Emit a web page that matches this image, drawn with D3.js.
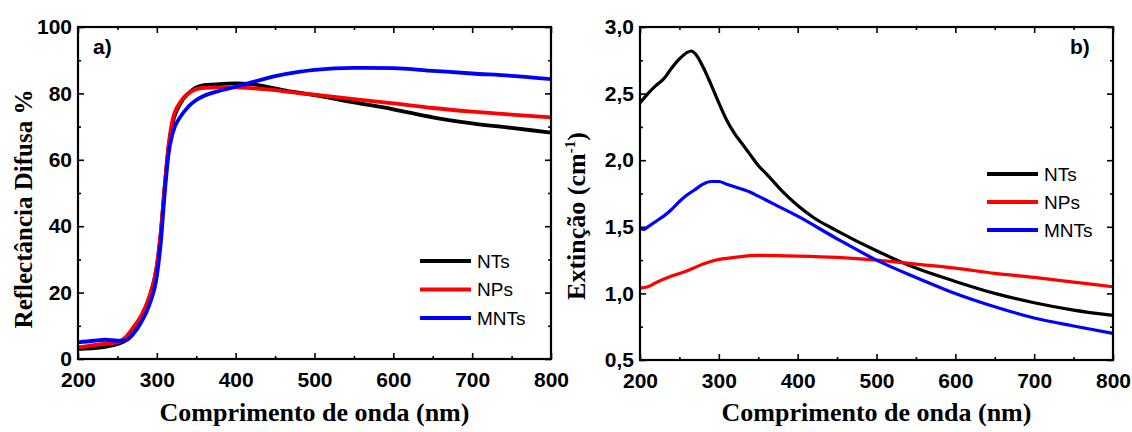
<!DOCTYPE html>
<html><head><meta charset="utf-8">
<script src="https://cdn.jsdelivr.net/npm/d3@7"></script>
<style>body{margin:0;background:#fff}svg{display:block}</style>
</head><body>
<svg id="c" width="1132" height="432"></svg>
<script>
// ---------- DATA ----------
const seriesNames = ["NTs", "NPs", "MNTs"];
const seriesColors = ["#000000", "#ff0000", "#0000ff"];

// Panel a) Reflectância difusa (%)
const reflWl = [200,230,250,260,270,280,290,300,305,310,315,320,330,340,350,360,380,400,420,440,460,480,500,550,600,650,700,750,800];
const reflNTs = [3,3.5,4.5,5.5,8,12,18,28,38,52,64,71,77,80,81.8,82.5,82.8,83,82.8,82,81,80.2,79.5,77.3,75.2,72.8,71,69.6,68.2];
const reflNPs = [3.5,4.5,5,6.5,9.5,13,18.5,28,38,52,64.5,72,77.5,80,81.3,81.7,81.8,81.8,81.6,81.2,80.7,80.1,79.6,78.3,77,75.6,74.5,73.6,72.8];
const reflMNTsWl = [200,220,235,250,260,270,280,290,300,305,310,315,320,330,340,350,360,380,400,420,450,480,500,550,600,650,700,750,800];
const reflMNTs = [5,5.5,5.8,5.5,5.6,7.5,11,16,25,35,50,62,68,73,76,78,79.3,80.8,82,83.3,85.2,86.5,87.1,87.7,87.6,86.8,86,85.3,84.3];

// Panel b) Extinção (cm^-1)
const extNTsWl = [200,210,220,230,240,250,260,265,270,280,290,300,310,320,330,340,350,360,380,400,420,450,500,550,600,650,700,750,800];
const extNTs = [2.43,2.5,2.56,2.61,2.69,2.76,2.81,2.82,2.8,2.7,2.57,2.43,2.3,2.2,2.12,2.04,1.96,1.9,1.77,1.66,1.57,1.47,1.32,1.19,1.09,1.0,0.93,0.875,0.835];
const extNPsWl = [200,210,220,240,260,280,300,320,350,400,450,500,550,600,650,700,750,800];
const extNPs = [1.04,1.05,1.08,1.13,1.17,1.22,1.255,1.27,1.285,1.28,1.27,1.25,1.22,1.19,1.15,1.12,1.085,1.05];
const extMNTsWl = [200,205,210,220,230,240,250,260,270,280,290,300,310,320,340,350,370,400,450,500,550,600,650,700,750,800];
const extMNTs = [1.49,1.48,1.5,1.54,1.58,1.63,1.69,1.74,1.78,1.82,1.84,1.84,1.82,1.8,1.76,1.73,1.67,1.58,1.41,1.25,1.12,1.0,0.9,0.815,0.755,0.70];

const xTicks = [200,300,400,500,600,700,800];
const reflTicks = [0,20,40,60,80,100];
const extTicks = [0.5,1.0,1.5,2.0,2.5,3.0];
const xTitle = "Comprimento de onda (nm)";

// ---------- DRAW ----------
const svg = d3.select("#c");
const fmtComma = d => d3.format(".1f")(d).replace(".", ",");

function panel(opt){
  const g = svg.append("g");
  const x = d3.scaleLinear().domain([200,800]).range([opt.left, opt.right]);
  const y = d3.scaleLinear().domain(opt.yDomain).range([opt.bottom, opt.top]);
  const tickFont = "bold 21px 'Liberation Sans', Arial, sans-serif";
  const W = opt.right-opt.left, H = opt.bottom-opt.top;

  // minor ticks
  const xMinor = d3.range(250,800,100);
  const yMinor = opt.yMinor;
  g.append("g").attr("transform",`translate(0,${opt.bottom})`).call(d3.axisBottom(x).tickValues(xMinor).tickSize(-3).tickFormat(""));
  g.append("g").attr("transform",`translate(0,${opt.top})`).call(d3.axisTop(x).tickValues(xMinor).tickSize(-3).tickFormat(""));
  g.append("g").attr("transform",`translate(${opt.left},0)`).call(d3.axisLeft(y).tickValues(yMinor).tickSize(-3).tickFormat(""));
  g.append("g").attr("transform",`translate(${opt.right},0)`).call(d3.axisRight(y).tickValues(yMinor).tickSize(-3).tickFormat(""));
  // major ticks
  const xa = g.append("g").attr("transform",`translate(0,${opt.bottom})`).call(d3.axisBottom(x).tickValues(xTicks).tickSize(-6).tickPadding(13));
  g.append("g").attr("transform",`translate(0,${opt.top})`).call(d3.axisTop(x).tickValues(xTicks).tickSize(-6).tickFormat(""));
  const ya = g.append("g").attr("transform",`translate(${opt.left},0)`).call(d3.axisLeft(y).tickValues(opt.yTicks).tickSize(-6).tickPadding(6).tickFormat(opt.fmt));
  g.append("g").attr("transform",`translate(${opt.right},0)`).call(d3.axisRight(y).tickValues(opt.yTicks).tickSize(-6).tickFormat(""));
  g.selectAll(".domain").remove();
  g.selectAll(".tick line").attr("stroke","#000").attr("stroke-width",1.6);
  g.selectAll(".tick text").style("font",tickFont).attr("fill","#000");
  xa.selectAll(".tick text").attr("dy","0.71em");

  // curves
  const line = d3.line().x(d=>x(d[0])).y(d=>y(d[1])).curve(d3.curveMonotoneX);
  const clipId = "clip"+opt.id;
  g.append("clipPath").attr("id",clipId).append("rect").attr("x",opt.left).attr("y",opt.top).attr("width",W).attr("height",H);
  opt.series.forEach((s,i)=>{
    g.append("path").attr("clip-path",`url(#${clipId})`)
      .datum(d3.zip(s.wl, s.v)).attr("d",line)
      .attr("fill","none").attr("stroke",seriesColors[i]).attr("stroke-width",opt.lw).attr("stroke-linejoin","round");
  });

  // frame
  g.append("rect").attr("x",opt.left).attr("y",opt.top).attr("width",W).attr("height",H)
    .attr("fill","none").attr("stroke","#000").attr("stroke-width",2.2);

  // legend
  seriesNames.forEach((n,i)=>{
    const ly = opt.legY + i*opt.legGap;
    g.append("line").attr("x1",opt.legX).attr("x2",opt.legX+51).attr("y1",ly).attr("y2",ly)
      .attr("stroke",seriesColors[i]).attr("stroke-width",4);
    g.append("text").attr("x",opt.legX+57).attr("y",ly).attr("dy","0.36em")
      .style("font","19px 'Liberation Sans', Arial, sans-serif").text(n);
  });

  // panel label
  g.append("text").attr("x",opt.labX).attr("y",opt.labY).style("font","bold 21px 'Liberation Sans', Arial, sans-serif").text(opt.label);

  // x title
  g.append("text").attr("x",(opt.left+opt.right)/2).attr("y",421).attr("text-anchor","middle")
    .style("font","bold 26px 'Liberation Serif', 'Times New Roman', serif").text(xTitle);
  return {x,y,g};
}

const pa = panel({id:"a", left:78, right:551, top:27, bottom:359, yDomain:[0,100], yTicks:reflTicks, yMinor:d3.range(10,100,20),
  fmt:d3.format("d"), lw:3.8,
  series:[{wl:reflWl,v:reflNTs},{wl:reflWl,v:reflNPs},{wl:reflMNTsWl,v:reflMNTs}],
  legX:420, legY:261, legGap:28.5, label:"a)", labX:93, labY:54});

const pb = panel({id:"b", left:640, right:1113, top:27, bottom:360, yDomain:[0.5,3.0], yTicks:extTicks, yMinor:d3.range(0.75,3.0,0.5),
  fmt:fmtComma, lw:3.2,
  series:[{wl:extNTsWl,v:extNTs},{wl:extNPsWl,v:extNPs},{wl:extMNTsWl,v:extMNTs}],
  legX:987, legY:174, legGap:28, label:"b)", labX:1070, labY:54});

// y titles
svg.append("text").attr("transform","translate(32,209) rotate(-90)").attr("text-anchor","middle")
  .style("font","bold 25px 'Liberation Serif', 'Times New Roman', serif").text("Reflectância Difusa %");
const yt = svg.append("text").attr("transform","translate(585,216) rotate(-90)").attr("text-anchor","middle")
  .style("font","bold 26px 'Liberation Serif', 'Times New Roman', serif");
yt.append("tspan").text("Extinção (cm");
yt.append("tspan").attr("dy","-10").style("font-size","15px").text("-1");
yt.append("tspan").attr("dy","10").text(")");
</script>
</body></html>
